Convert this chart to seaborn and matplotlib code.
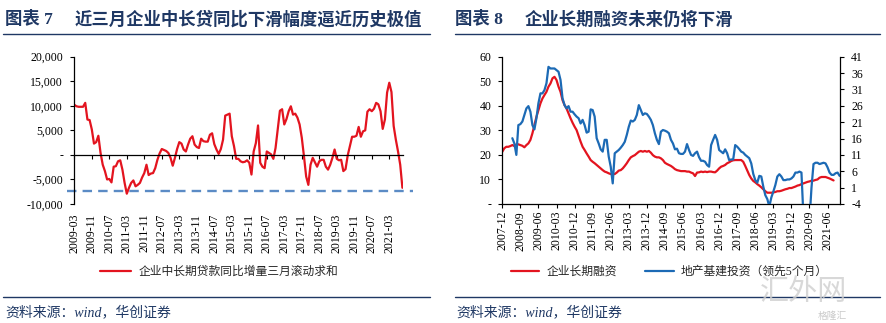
import numpy as np
import pandas as pd
import matplotlib
matplotlib.use('Agg')
import matplotlib.pyplot as plt
import seaborn as sns
from matplotlib.lines import Line2D

# ---------------- data ----------------
left_start = '2009-03'
left_values = [
    10200, 9900, 9800, 9800, 9800, 10600, 7200, 7100, 5200, 2300, 2600, 3900,
    400, -2000, -3300, -5000, -4900, -5600, -2400, -2300, -1300, -1100, -3000, -5700,
    -7900, -6700, -5700, -5200, -6400, -6100, -5700, -4600, -3700, -2000, -4100, -3800,
    -3700, -2700, -1000, 300, 1200, 1000, 800, 400, -600, -2200, -600, 1200,
    2600, 2300, 1100, 700, 2100, 3300, 3800, 2100, 1600, 1400, 3300, 2800,
    2700, 2700, 4100, 4400, 2200, 1100, 200, 1200, 3100, 8000, 8200, 8400,
    3800, 1800, -800, -800, -1300, -1500, -1400, -1100, -1600, -4000, 700, 2400,
    6000, -1600, -2400, -2700, 700, 400, 100, -800, 1400, 5200, 9000, 9300,
    6200, 7300, 8900, 9900, 8200, 8400, 7600, 6200, 3500, -300, -4400, -6100,
    -2000, -600, -1500, -2400, -1300, -1000, -1000, -2400, -3000, -2000, -600, 1100,
    -800, -1100, -1000, -3300, -2900, -100, 1800, 3700, 3700, 3900, 5700, 3700,
    4800, 5000, 8800, 9300, 8900, 9400, 10600, 10300, 8900, 5300, 7200, 12700,
    14700, 12800, 5900, 3100, 700, -2000, -6700,
]
left_threshold = -7350
left_ticklabels = ['2009-03', '2009-11', '2010-07', '2011-03', '2011-11', '2012-07',
                   '2013-03', '2013-11', '2014-07', '2015-03', '2015-11', '2016-07',
                   '2017-03', '2017-11', '2018-07', '2019-03', '2019-11', '2020-07',
                   '2021-03']
left_yticks = [-10000, -5000, 0, 5000, 10000, 15000, 20000]
left_yticklabels = ['-10,000', '-5,000', '-', '5,000', '10,000', '15,000', '20,000']
left_label = '企业中长期贷款同比增量三月滚动求和'

right_start = '2007-12'
red_values = [
    21.3, 22.7, 23.3, 23.3, 23.6, 24.0, 23.6, 24.3, 24.3, 24.0, 23.7, 23.1,
    24.0, 24.7, 26.1, 28.8, 32.2, 35.5, 38.3, 41.0, 43.0, 44.4, 45.7, 47.8,
    49.1, 51.2, 51.8, 50.5, 47.8, 45.7, 42.3, 40.3, 38.9, 36.9, 34.9, 33.1,
    31.5, 30.1, 27.7, 25.4, 23.3, 22.0, 20.6, 19.3, 17.9, 17.2, 16.6, 15.9,
    15.2, 14.5, 13.8, 13.2, 12.9, 12.5, 12.2, 12.2, 12.2, 12.8, 13.6, 13.8,
    14.5, 15.5, 16.6, 17.9, 19.0, 19.5, 19.9, 20.6, 21.3, 21.6, 21.3, 21.6,
    21.3, 21.6, 20.9, 19.9, 19.3, 19.0, 19.0, 18.6, 17.9, 16.8, 16.3, 15.9,
    15.5, 14.9, 14.2, 13.8, 13.6, 13.4, 13.4, 13.4, 13.2, 13.2, 12.8, 12.5,
    11.4, 12.8, 12.9, 13.2, 13.0, 13.2, 13.0, 13.2, 13.2, 13.0, 12.9, 13.6,
    14.5, 15.2, 15.5, 15.9, 16.6, 17.0, 17.5, 17.8, 17.9, 17.9, 17.9, 17.9,
    17.2, 15.5, 13.6, 11.8, 10.4, 9.4, 8.8, 8.1, 7.5, 6.8, 6.0, 5.2,
    4.6, 4.6, 4.6, 4.7, 4.9, 5.2, 5.2, 5.4, 5.7, 6.0, 6.2, 6.5,
    6.5, 6.8, 7.1, 7.5, 7.7, 8.1, 8.4, 8.7, 9.0, 9.2, 9.5, 9.5,
    9.8, 10.0, 10.7, 11.0, 11.0, 11.0, 10.7, 10.4, 10.0, 9.6,
]
blue_values = [
    np.nan, np.nan, np.nan, np.nan, np.nan,
    16.1, 14.5, 11.0, 20.1, 20.4, 21.2, 23.2,
    25.2, 25.9, 24.2, 20.1, 18.8, 22.2, 26.8, 29.8, 29.8, 30.8, 32.9, 37.9,
    37.4, 37.4, 37.4, 36.9, 36.4, 33.9, 28.3, 26.2, 25.2, 25.9, 24.2, 24.2,
    23.4, 22.7, 22.2, 20.6, 21.7, 20.1, 17.8, 18.1, 24.9, 24.7, 22.7, 16.1,
    14.5, 12.7, 12.0, 15.6, 15.6, 10.5, 7.4, 2.3, 11.5, 12.0, 12.5, 13.2,
    14.0, 15.0, 17.1, 19.6, 21.5, 21.2, 21.7, 23.2, 26.2, 24.7, 23.2, 23.7,
    23.5, 22.7, 21.7, 20.1, 17.6, 15.6, 14.3, 18.1, 18.6, 18.4, 18.1, 17.6,
    15.6, 14.5, 12.7, 12.9, 11.5, 11.3, 11.3, 12.0, 14.3, 12.5, 11.0, 10.7,
    11.5, 12.0, 10.3, 9.2, 9.2, 8.9, 7.9, 7.4, 14.0, 15.6, 17.1, 15.6,
    12.5, 12.0, 11.5, 12.7, 11.5, 9.4, 9.6, 9.6, 14.0, 13.5, 12.8, 12.0,
    11.7, 11.0, 10.5, 10.0, 8.4, 5.2, 3.3, 2.5, 4.6, 4.4, 1.3, -1.3,
    -2.5, -4.8, -2.0, -0.2, 1.8, 4.4, 5.1, 4.4, 3.3, 3.3, 3.5, 3.5,
    3.8, 4.4, 5.6, 5.6, 5.9, 5.6, -8.0, -20.0, -14.0, -9.0, 1.0, 8.2,
    8.6, 8.6, 8.2, 8.4, 8.6, 8.4, 7.2, 5.6, 4.9, 4.9, 5.4, 5.6, 4.6,
]
right_ticklabels = ['2007-12', '2008-09', '2009-06', '2010-03', '2010-12', '2011-09',
                    '2012-06', '2013-03', '2013-12', '2014-09', '2015-06', '2016-03',
                    '2016-12', '2017-09', '2018-06', '2019-03', '2019-12', '2020-09',
                    '2021-06']
right_yticks = [0, 10, 20, 30, 40, 50, 60]
right_yticklabels = ['-', '10', '20', '30', '40', '50', '60']
right2_yticks = [-4, 1, 6, 11, 16, 21, 26, 31, 36, 41]
red_label = '企业长期融资'
blue_label = '地产基建投资（领先5个月）'

title_left_no = '图表 7'
title_left = '近三月企业中长贷同比下滑幅度逼近历史极值'
title_right_no = '图表 8'
title_right = '企业长期融资未来仍将下滑'
source_text = '资料来源：wind，华创证券'

# ---------------- style ----------------
sns.set_theme(style='white')
plt.rcParams['font.family'] = ['Liberation Serif', 'Noto Sans CJK SC']
plt.rcParams['axes.unicode_minus'] = False

NAVY = '#1F3864'
RED = '#E3141F'
BLUE = '#1C6AB5'
DASH = '#5B8BC5'

W, H = 887, 323
fig = plt.figure(figsize=(W / 100, H / 100), dpi=100)


def fx(px):
    return px / W


def fy(py):
    return 1 - py / H


# ---------------- left chart ----------------
left_months = pd.period_range(left_start, periods=len(left_values), freq='M').strftime('%Y-%m').tolist()
dfL = pd.DataFrame({'idx': np.arange(len(left_values)), 'value': left_values})
axL = fig.add_axes([fx(74.3), fy(204), fx(403.5) - fx(74.3), fy(56.7) - fy(204)])
sns.lineplot(data=dfL, x='idx', y='value', ax=axL, color=RED, lw=1.6, legend=False)
axL.axhline(left_threshold, xmin=-0.021, xmax=1.03, clip_on=False, color=DASH,
            lw=1.7, ls=(0, (4, 2.6)))
axL.set_xlim(0, 150.5)
axL.set_ylim(-10000, 20000)
axL.set_xlabel('')
axL.set_ylabel('')
for s in ['top', 'right']:
    axL.spines[s].set_visible(False)
axL.spines['bottom'].set_position(('data', 0))
for s in ['left', 'bottom']:
    axL.spines[s].set_color('black')
    axL.spines[s].set_linewidth(0.9)
ltick_pos = [left_months.index(t) for t in left_ticklabels]
axL.set_xticks(ltick_pos)
axL.tick_params(axis='x', bottom=True, length=3, width=0.8, direction='out',
                color='black', labelbottom=False)
axL.set_yticks(left_yticks, labels=left_yticklabels)
axL.tick_params(axis='y', left=True, length=3, width=0.8, direction='out',
                color='black', labelcolor='black', labelsize=8.5, pad=5)
sec = axL.secondary_xaxis('bottom')
sec.set_xticks(ltick_pos, labels=left_ticklabels)
sec.tick_params(axis='x', length=0, pad=7, labelsize=8.5, labelrotation=90,
                labelcolor='black')
sec.spines['bottom'].set_visible(False)

fig.legend(handles=[Line2D([], [], color=RED, lw=1.6)], labels=[left_label],
           loc='center left', bbox_to_anchor=(fx(100), fy(272)),
           frameon=False, fontsize=8.5, handlelength=2.6, handletextpad=0.7,
           borderpad=0, borderaxespad=0)

# ---------------- right chart ----------------
right_months = pd.period_range(right_start, periods=len(blue_values), freq='M').strftime('%Y-%m').tolist()
dfR = pd.DataFrame({'idx': np.arange(len(red_values)), 'value': red_values})
dfB = pd.DataFrame({'idx': np.arange(len(blue_values)), 'value': blue_values}).dropna()
axR = fig.add_axes([fx(502.3), fy(204), fx(840) - fx(502.3), fy(56.7) - fy(204)])
sns.lineplot(data=dfR, x='idx', y='value', ax=axR, color=RED, lw=1.6, legend=False)
axR2 = axR.twinx()
sns.lineplot(data=dfB, x='idx', y='value', ax=axR2, color=BLUE, lw=1.6, legend=False)
axR.set_xlim(0, 168.2)
axR.set_ylim(0, 60)
axR2.set_ylim(-4, 41)
for a in (axR, axR2):
    a.set_xlabel('')
    a.set_ylabel('')
    a.spines['top'].set_visible(False)
    for s in ['left', 'right', 'bottom']:
        a.spines[s].set_color('black')
        a.spines[s].set_linewidth(0.9)
axR.spines['right'].set_visible(False)
axR2.spines['left'].set_visible(False)
axR2.spines['bottom'].set_visible(False)
rtick_pos = [right_months.index(t) for t in right_ticklabels]
axR.set_xticks(rtick_pos, labels=right_ticklabels)
axR.tick_params(axis='x', bottom=True, length=3, width=0.8, direction='out',
                color='black', labelcolor='black', labelsize=8.5,
                labelrotation=90, pad=2)
axR.set_yticks(right_yticks, labels=right_yticklabels)
axR.tick_params(axis='y', left=True, length=3, width=0.8, direction='out',
                color='black', labelcolor='black', labelsize=8.5, pad=5)
axR2.set_yticks(right2_yticks, labels=[str(v) for v in right2_yticks])
axR2.tick_params(axis='y', right=True, length=3, width=0.8, direction='out',
                 color='black', labelcolor='black', labelsize=8.5, pad=5)

fig.legend(handles=[Line2D([], [], color=RED, lw=1.6), Line2D([], [], color=BLUE, lw=1.6)],
           labels=[red_label, blue_label], ncol=2,
           loc='center left', bbox_to_anchor=(fx(511), fy(272)),
           frameon=False, fontsize=8.5, handlelength=2.4, handletextpad=0.6,
           columnspacing=2.4, borderpad=0, borderaxespad=0)

# ---------------- titles, rules, source ----------------
for x_no, x_t, no, t in [(5, 75, title_left_no, title_left),
                         (455, 525, title_right_no, title_right)]:
    fig.text(fx(x_no), fy(20), no, fontsize=12.5, fontweight='bold', color=NAVY,
             ha='left', va='center')
    fig.text(fx(x_t), fy(20), t, fontsize=12.5, fontweight='bold', color=NAVY,
             ha='left', va='center')

for x0, x1 in [(3, 430), (455, 880)]:
    fig.add_artist(Line2D([fx(x0), fx(x1)], [fy(34), fy(34)], color=NAVY, lw=1.0))
    fig.add_artist(Line2D([fx(x0), fx(x1)], [fy(296.5), fy(296.5)], color=NAVY, lw=1.0))

for x0 in (5, 456):
    fig.text(fx(x0), fy(312), source_text, fontsize=10, style='italic', color=NAVY,
             ha='left', va='center')

# watermark
fig.text(fx(760), fy(293), '汇外网', fontsize=21, color='#cfcfcf', ha='left',
         va='center', alpha=0.8)
fig.text(fx(818), fy(316), '格隆汇', fontsize=7, color='#bdbdbd', ha='left',
         va='center', alpha=0.8)

fig.savefig('out.png', dpi=100)
